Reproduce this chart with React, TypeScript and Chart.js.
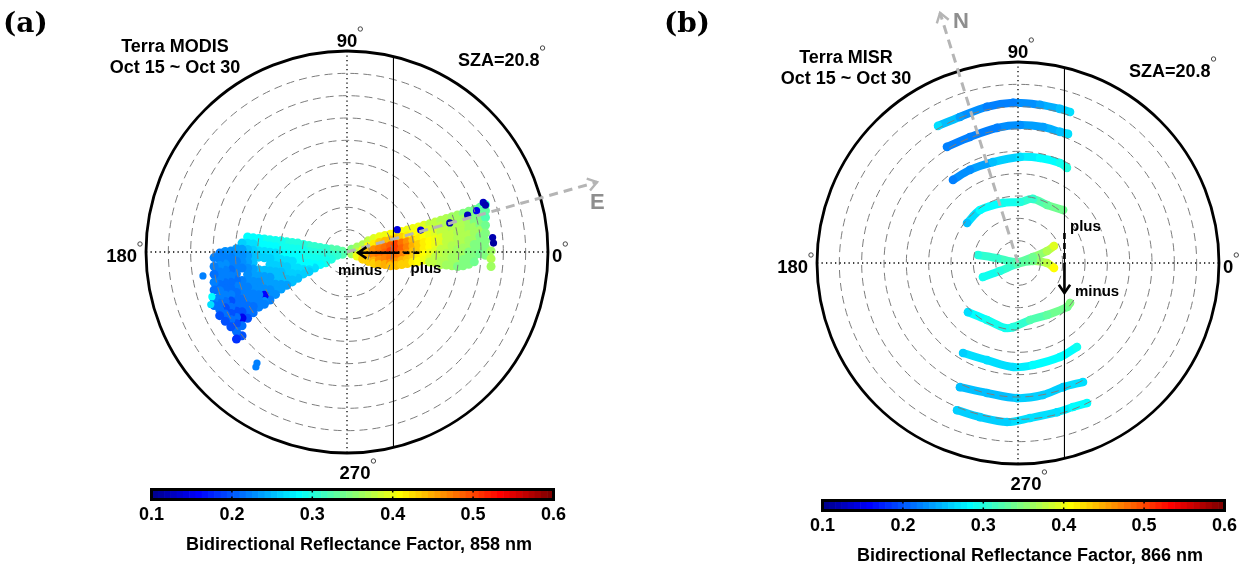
import React, { useEffect, useRef } from "react";
import { Chart, registerables } from "chart.js";

Chart.register(...registerables);

// ---------------- shared polar-axis values ----------------
const ringZeniths = [10, 20, 30, 40, 50, 60, 70, 80];
const outerZenith = 90;
const solarZenith = 20.8;
const azimuthLabels = ["0", "90", "180", "270"];
const colorbarTicks = [0.1, 0.2, 0.3, 0.4, 0.5, 0.6];
const brfMin = 0.1;
const brfMax = 0.6;
const jetLevels = 64;

// plus / minus principal-plane arrow extents (view zenith, deg)
const pmMinusEnd = 5;
const pmPlusEnd = 32.5;
const pmVerticalHalf = 13.4;

// compass arrows (x, y in view-zenith degrees)
const eastTip = [112, 31.3];
const northTip = [-34.9, 112];

const modisTitle = ["Terra MODIS", "Oct 15 ~ Oct 30"];
const misrTitle = ["Terra MISR", "Oct 15 ~ Oct 30"];
const szaText = "SZA=20.8";
const modisBarLabel = "Bidirectional Reflectance Factor, 858 nm";
const misrBarLabel = "Bidirectional Reflectance Factor, 866 nm";

// ---------------- MODIS (panel a) ----------------
// backscatter side (negative x): column x, then y and BRF of each sample
const modisWestX = [-2, -4.5, -7, -9.5, -12, -14.5, -17, -19.5, -22, -24.5, -27, -29.5, -32, -34.5, -37, -39.5, -42, -44.5, -47, -49.5, -52, -54.5, -57, -59.5];
const modisWestY = [
  [0.3, -1.0],
  [1.0, -1.5],
  [1.3, -1.2, -3.2],
  [1.6, -0.9, -3.4, -4.8],
  [2.0, -0.6, -3.2, -5.6],
  [2.5, -0.2, -2.9, -5.6, -7.2],
  [2.9, 0.2, -2.5, -5.2, -7.9, -8.8],
  [3.4, 0.6, -2.2, -5.0, -7.8, -9.8],
  [4.0, 1.2, -1.6, -4.4, -7.2, -10.0, -11.8],
  [4.3, 1.5, -1.3, -4.1, -6.9, -9.7, -12.5, -13.4],
  [4.6, 1.8, -1.0, -3.8, -6.6, -9.4, -12.2, -14.9],
  [5.0, 2.2, -0.6, -3.4, -6.2, -9.0, -11.8, -14.6, -16.6],
  [5.2, 2.4, -0.4, -3.2, -6.0, -8.8, -11.6, -14.4, -17.2, -19.0],
  [5.5, 2.7, -0.1, -2.9, -5.7, -8.5, -11.3, -14.1, -16.9, -19.7, -21.5],
  [5.8, 3.0, 0.2, -2.6, -8.2, -11.0, -13.8, -16.6, -19.4, -22.2, -23.4],
  [6.1, 3.3, 0.5, -2.3, -7.9, -10.7, -13.5, -16.3, -19.1, -21.9, -24.7],
  [6.4, 3.6, 0.8, -2.0, -4.8, -7.6, -10.4, -13.2, -16.0, -18.8, -21.6, -24.4, -27.2],
  [6.7, 3.9, 1.1, -1.7, -4.5, -7.3, -10.1, -12.9, -15.7, -18.5, -21.3, -24.1, -26.9, -29.7],
  [4.0, 1.2, -1.6, -4.4, -7.2, -12.8, -15.6, -18.4, -21.2, -24.0, -26.8, -29.6, -33.0, -37.5],
  [1.5, -1.3, -4.1, -6.9, -9.7, -12.5, -15.3, -18.1, -20.9, -23.7, -26.5, -29.3, -32.1, -35.5, -39.0],
  [0.5, -2.3, -5.1, -7.9, -10.7, -13.5, -16.3, -19.1, -21.9, -24.7, -27.5, -30.3, -33.5],
  [0.2, -2.6, -5.4, -8.2, -11.0, -13.8, -16.6, -19.4, -22.2, -25.0, -27.8, -31.0],
  [-0.5, -3.3, -6.1, -8.9, -11.7, -14.5, -17.3, -20.1, -22.9, -25.7, -28.5],
  [-2.5, -6.5, -10.0, -13.5, -17.0, -21.0, -24.0],
];
const modisWestBRF = [
  [0.33, 0.32],
  [0.32, 0.31],
  [0.32, 0.31, 0.3],
  [0.31, 0.3, 0.29, 0.29],
  [0.31, 0.3, 0.29, 0.28],
  [0.31, 0.3, 0.29, 0.28, 0.27],
  [0.31, 0.3, 0.29, 0.28, 0.27, 0.26],
  [0.3, 0.29, 0.29, 0.28, 0.27, 0.26],
  [0.3, 0.29, 0.28, 0.28, 0.27, 0.26, 0.25],
  [0.3, 0.29, 0.28, 0.27, 0.27, 0.26, 0.25, 0.25],
  [0.3, 0.29, 0.28, 0.27, 0.26, 0.26, 0.25, 0.24],
  [0.29, 0.29, 0.28, 0.27, 0.26, 0.25, 0.25, 0.24, 0.24],
  [0.29, 0.28, 0.27, 0.27, 0.26, 0.25, 0.25, 0.24, 0.24, 0.23],
  [0.29, 0.28, 0.27, 0.26, 0.26, 0.25, 0.24, 0.24, 0.23, 0.23, 0.22],
  [0.29, 0.28, 0.27, 0.26, 0.25, 0.24, 0.24, 0.23, 0.16, 0.23, 0.22],
  [0.28, 0.28, 0.27, 0.26, 0.25, 0.24, 0.23, 0.23, 0.22, 0.22, 0.22],
  [0.28, 0.27, 0.26, 0.25, 0.25, 0.24, 0.24, 0.23, 0.23, 0.22, 0.22, 0.21, 0.21],
  [0.28, 0.27, 0.25, 0.24, 0.24, 0.23, 0.23, 0.23, 0.22, 0.22, 0.22, 0.21, 0.21, 0.2],
  [0.26, 0.24, 0.23, 0.23, 0.22, 0.22, 0.22, 0.22, 0.21, 0.21, 0.2, 0.15, 0.21, 0.2],
  [0.24, 0.23, 0.22, 0.22, 0.22, 0.21, 0.22, 0.21, 0.21, 0.21, 0.2, 0.21, 0.2, 0.21, 0.18],
  [0.23, 0.22, 0.22, 0.21, 0.22, 0.21, 0.21, 0.22, 0.2, 0.21, 0.2, 0.21, 0.2],
  [0.23, 0.22, 0.23, 0.22, 0.22, 0.21, 0.21, 0.22, 0.21, 0.2, 0.21, 0.2],
  [0.22, 0.22, 0.23, 0.22, 0.22, 0.21, 0.22, 0.22, 0.21, 0.21, 0.2],
  [0.22, 0.22, 0.21, 0.22, 0.21, 0.22, 0.21],
];

// forward-scatter side (positive x)
const modisEastX = [2, 4.5, 7, 9.5, 12, 14.5, 17, 19.5, 22, 24.5, 27, 29.5, 32, 34.5, 37, 39.5, 42, 44.5, 47, 49.5, 52, 54.5, 57, 59.5, 62, 64.5];
const modisEastY = [
  [1.2, -0.8],
  [2.2, 0, -1.8],
  [3.2, 0.8, -1.6, -3.2],
  [5, 2.5, 0, -2.5, -4.2],
  [6, 3.5, 1, -1.5, -4, -5.2],
  [6.8, 4.2, 1.6, -1, -3.6, -5.6],
  [7.4, 4.8, 2.2, -0.4, -3, -5.6],
  [8, 5.4, 2.8, 0.2, -2.4, -5, -6.2],
  [8.6, 6, 3.4, 0.8, -1.8, -4.4, -6],
  [9.2, 6.6, 4, 1.4, -1.2, -3.8, -5.6],
  [9.8, 7.2, 4.6, 2, -0.6, -3.2, -5.2],
  [10.5, 7.9, 5.3, 2.7, 0.1, -2.5, -4.6],
  [11.2, 8.6, 6, 3.4, 0.8, -1.8, -4.2],
  [12, 9.4, 6.8, 4.2, 1.6, -1, -3.6],
  [12.6, 10, 7.4, 4.8, 2.2, -0.4, -3, -4.5],
  [13.4, 10.8, 8.2, 5.6, 3, 0.4, -2.2, -4.8],
  [14.2, 11.6, 9, 6.4, 3.8, 1.2, -1.4, -4, -5.6],
  [15, 12.4, 9.8, 7.2, 4.6, 2, -0.6, -3.2, -5.8],
  [15.8, 13.2, 10.6, 8, 5.4, 2.8, 0.2, -2.4, -5, -6.2],
  [16.6, 14, 11.4, 8.8, 6.2, 3.6, 1, -1.6, -4.2, -6.5],
  [17.4, 14.8, 12.2, 9.6, 7, 4.4, 1.8, -0.8, -3.4, -6.2],
  [18.2, 15.6, 13, 10.4, 7.8, 5.2, 2.6, 0, -2.6, -5.5],
  [19, 16.4, 13.8, 11.2, 8.6, 6, 3.4, 0.8, -1.8, -4.4],
  [20, 17.4, 14.8, 12.2, 9.6, 7, 4.4, 1.8, -0.8],
  [21.2, 18.5, 15.5, 12, 8.5, 5, 2, -1.5],
  [0.5, -3, -6.5],
];
const modisEastBRF = [
  [0.35, 0.36],
  [0.36, 0.38, 0.4],
  [0.37, 0.4, 0.42, 0.43],
  [0.38, 0.41, 0.44, 0.45, 0.43],
  [0.39, 0.42, 0.46, 0.47, 0.45, 0.43],
  [0.4, 0.43, 0.47, 0.48, 0.46, 0.44],
  [0.4, 0.44, 0.48, 0.49, 0.47, 0.45],
  [0.41, 0.44, 0.49, 0.5, 0.48, 0.46, 0.44],
  [0.41, 0.44, 0.5, 0.5, 0.48, 0.46, 0.44],
  [0.41, 0.43, 0.48, 0.49, 0.47, 0.45, 0.43],
  [0.4, 0.42, 0.46, 0.47, 0.46, 0.44, 0.43],
  [0.4, 0.41, 0.44, 0.45, 0.44, 0.43, 0.42],
  [0.4, 0.41, 0.42, 0.43, 0.43, 0.42, 0.41],
  [0.39, 0.4, 0.41, 0.42, 0.42, 0.41, 0.4],
  [0.38, 0.39, 0.4, 0.41, 0.41, 0.4, 0.39, 0.38],
  [0.38, 0.38, 0.39, 0.4, 0.4, 0.39, 0.38, 0.38],
  [0.37, 0.38, 0.38, 0.39, 0.39, 0.38, 0.38, 0.37, 0.37],
  [0.37, 0.37, 0.38, 0.38, 0.38, 0.38, 0.37, 0.37, 0.36],
  [0.36, 0.37, 0.37, 0.38, 0.38, 0.37, 0.37, 0.36, 0.36, 0.36],
  [0.36, 0.36, 0.37, 0.37, 0.37, 0.37, 0.36, 0.36, 0.36, 0.35],
  [0.35, 0.36, 0.37, 0.37, 0.37, 0.37, 0.36, 0.36, 0.35, 0.35],
  [0.35, 0.35, 0.36, 0.36, 0.37, 0.36, 0.36, 0.35, 0.35, 0.35],
  [0.34, 0.35, 0.35, 0.36, 0.36, 0.36, 0.35, 0.35, 0.35, 0.34],
  [0.33, 0.34, 0.35, 0.35, 0.36, 0.35, 0.35, 0.35, 0.34],
  [0.31, 0.33, 0.32, 0.34, 0.35, 0.35, 0.35, 0.35],
  [0.36, 0.37, 0.36],
];

// isolated and dark samples
const modisSpeckX = [61, 62, 65.2, 65.6, 54, 46, 22.5, 33, 58, -64.5, -60.5, -61, -40.3, -40.8];
const modisSpeckY = [22.2, 21, 6.5, 4, 16.5, 13, 10, 9.8, 18.5, -10.7, -20, -23.5, -49.7, -51.5];
const modisSpeckBRF = [0.13, 0.12, 0.12, 0.11, 0.13, 0.12, 0.14, 0.14, 0.15, 0.22, 0.28, 0.27, 0.22, 0.22];

// ---------------- MISR (panel b): one along-track arc per camera ----------------
const misrArcX = [
  [-35.8, -26.0, -13.9, -2.2, 9.9, 18.8, 23.3],
  [-31.8, -21.5, -9.4, 0.9, 11.2, 18.8, 22.4],
  [-29.1, -21.5, -11.2, 0.9, 9.9, 18.8, 21.9],
  [-22.8, -17.0, -6.7, 0.9, 6.7, 13.0, 20.2],
  [-17.9, -9.4, -0.4, 6.7, 13.0, 16.1],
  [-15.7, -8.1, -0.4, 6.7, 13.0, 16.1],
  [-22.4, -13.9, -5.8, -2.2, 5.4, 13.0, 22.0, 23.3],
  [-24.6, -13.9, -2.2, 6.7, 18.8, 26.4],
  [-26.0, -13.9, -0.4, 11.2, 20.2, 29.1],
  [-27.3, -17.0, -4.9, 5.4, 17.5, 24.6, 30.9],
];
const misrArcY = [
  [61.4, 65.4, 69.9, 71.7, 70.8, 69.0, 67.6],
  [52.0, 56.4, 60.5, 61.8, 60.9, 58.7, 57.8],
  [37.2, 41.7, 45.2, 47.5, 47.0, 44.8, 42.6],
  [17.9, 23.7, 26.9, 27.3, 28.7, 26.0, 23.7],
  [3.6, 2.2, 0.4, 2.7, 5.4, 7.6],
  [-6.3, -3.6, -0.4, 0.9, 0.0, -2.2],
  [-22.0, -25.5, -29.1, -28.7, -25.5, -23.3, -19.7, -17.9],
  [-40.3, -43.5, -46.6, -45.7, -42.1, -37.6],
  [-55.6, -58.2, -60.5, -59.1, -55.6, -53.3],
  [-65.9, -69.0, -71.2, -69.4, -66.8, -64.5, -62.7],
];
const misrArcBRF = [
  [0.27, 0.24, 0.22, 0.22, 0.24, 0.25, 0.27],
  [0.22, 0.22, 0.22, 0.23, 0.24, 0.25, 0.27],
  [0.22, 0.23, 0.25, 0.27, 0.28, 0.29, 0.3],
  [0.25, 0.28, 0.29, 0.3, 0.31, 0.33, 0.34],
  [0.3, 0.31, 0.32, 0.34, 0.37, 0.39],
  [0.29, 0.3, 0.32, 0.34, 0.38, 0.41],
  [0.27, 0.29, 0.29, 0.3, 0.32, 0.33, 0.34, 0.35],
  [0.26, 0.27, 0.27, 0.28, 0.28, 0.29],
  [0.25, 0.25, 0.26, 0.26, 0.26, 0.27],
  [0.26, 0.26, 0.26, 0.27, 0.27, 0.28, 0.28],
];

// ---------------- helpers ----------------
const FONT = '"Liberation Sans", Arial, Helvetica, sans-serif';

function jetRGB(i: number): number[] {
  const u = (i + 1) / jetLevels;
  const f = (c: number) => Math.round(255 * Math.max(0, Math.min(1, 1.5 - Math.abs(4 * u - c))));
  return [f(3), f(2), f(1)];
}
function jetColor(v: number): string {
  const t = (v - brfMin) / (brfMax - brfMin);
  const i = Math.max(0, Math.min(jetLevels - 1, Math.floor(t * jetLevels)));
  const [r, g, b] = jetRGB(i);
  return `rgb(${r},${g},${b})`;
}

function columnsToPoints(xs: number[], ys: number[][], vs: number[][]) {
  const pts: { x: number; y: number }[] = [];
  const cols: string[] = [];
  xs.forEach((x, i) => {
    ys[i].forEach((y, j) => {
      pts.push({ x, y });
      const row = vs[i];
      cols.push(jetColor(row[Math.min(j, row.length - 1)]));
    });
  });
  return { pts, cols };
}

function chevron(ctx: CanvasRenderingContext2D, x: number, y: number, ang: number, len: number, spread: number) {
  ctx.beginPath();
  ctx.moveTo(x - len * Math.cos(ang - spread), y - len * Math.sin(ang - spread));
  ctx.lineTo(x, y);
  ctx.lineTo(x - len * Math.cos(ang + spread), y - len * Math.sin(ang + spread));
  ctx.stroke();
}

function degreeText(ctx: CanvasRenderingContext2D, text: string, x: number, y: number, align: CanvasTextAlign) {
  ctx.textAlign = align;
  ctx.fillText(text, x, y);
  const w = ctx.measureText(text).width;
  const right = align === "left" ? x + w : align === "right" ? x : x + w / 2;
  ctx.save();
  ctx.beginPath();
  ctx.lineWidth = 0.9;
  ctx.strokeStyle = "#333";
  ctx.arc(right + 3, y - 18, 2.2, 0, Math.PI * 2);
  ctx.stroke();
  ctx.restore();
}

type PanelSpec = {
  tag: string;
  tagX: number;
  title: string[];
  barLabel: string;
  pm: "h" | "v";
  compassTip: number[];
  compassLetter: string;
  letterDx: number;
  letterDy: number;
};

function drawPanel(chart: any, spec: PanelSpec) {
  const ctx: CanvasRenderingContext2D = chart.ctx;
  const xs = chart.scales.x;
  const ys = chart.scales.y;
  const px = (v: number) => xs.getPixelForValue(v);
  const py = (v: number) => ys.getPixelForValue(v);
  const cx = px(0);
  const cy = py(0);
  const rpx = (z: number) => px(z) - cx;
  const R = rpx(outerZenith);
  ctx.save();

  // dashed zenith rings
  ctx.strokeStyle = "#7d7d7d";
  ctx.lineWidth = 1;
  ctx.setLineDash([8, 5]);
  for (const z of ringZeniths) {
    ctx.beginPath();
    ctx.arc(cx, cy, rpx(z), 0, Math.PI * 2);
    ctx.stroke();
  }
  // dotted azimuth axes
  ctx.strokeStyle = "#000";
  ctx.lineWidth = 1.3;
  ctx.setLineDash([1.3, 3.2]);
  ctx.beginPath();
  ctx.moveTo(cx - R, cy);
  ctx.lineTo(cx + R, cy);
  ctx.moveTo(cx, cy - R);
  ctx.lineTo(cx, cy + R);
  ctx.stroke();
  // solar zenith line
  ctx.setLineDash([]);
  ctx.lineWidth = 1.1;
  const sx = px(solarZenith);
  const h = Math.sqrt(R * R - (sx - cx) * (sx - cx));
  ctx.beginPath();
  ctx.moveTo(sx, cy - h);
  ctx.lineTo(sx, cy + h);
  ctx.stroke();
  // outer circle
  ctx.lineWidth = 2.8;
  ctx.beginPath();
  ctx.arc(cx, cy, R, 0, Math.PI * 2);
  ctx.stroke();

  // compass arrow
  const tx = px(spec.compassTip[0]);
  const ty = py(spec.compassTip[1]);
  ctx.strokeStyle = "#b5b5b5";
  ctx.lineWidth = 3;
  ctx.setLineDash([9, 6]);
  ctx.beginPath();
  ctx.moveTo(cx, cy);
  ctx.lineTo(tx, ty);
  ctx.stroke();
  ctx.setLineDash([]);
  ctx.lineWidth = 2.4;
  chevron(ctx, tx, ty, Math.atan2(ty - cy, tx - cx), 11, 0.6);
  ctx.fillStyle = "#8e8e8e";
  ctx.font = `bold 22px ${FONT}`;
  ctx.textAlign = "left";
  ctx.fillText(spec.compassLetter, cx + spec.letterDx, cy + spec.letterDy);

  // plus / minus arrow
  ctx.strokeStyle = "#000";
  ctx.fillStyle = "#000";
  ctx.lineWidth = 2.6;
  ctx.font = `bold 15px ${FONT}`;
  if (spec.pm === "h") {
    const ay = cy + 0.7;
    ctx.setLineDash([6, 4]);
    ctx.beginPath();
    ctx.moveTo(sx, ay);
    ctx.lineTo(px(pmPlusEnd), ay);
    ctx.stroke();
    ctx.setLineDash([]);
    ctx.beginPath();
    ctx.moveTo(sx, ay);
    ctx.lineTo(px(pmMinusEnd), ay);
    ctx.stroke();
    chevron(ctx, px(pmMinusEnd), ay, Math.PI, 10, 0.6);
    ctx.textAlign = "center";
    ctx.fillText("minus", cx + 13, cy + 23);
    ctx.fillText("plus", cx + 79, cy + 21);
  } else {
    ctx.setLineDash([6, 4]);
    ctx.beginPath();
    ctx.moveTo(sx, py(pmVerticalHalf));
    ctx.lineTo(sx, cy);
    ctx.stroke();
    ctx.setLineDash([]);
    ctx.beginPath();
    ctx.moveTo(sx, cy);
    ctx.lineTo(sx, py(-pmVerticalHalf));
    ctx.stroke();
    chevron(ctx, sx, py(-pmVerticalHalf), Math.PI / 2, 10, 0.6);
    ctx.textAlign = "left";
    ctx.fillText("plus", cx + 52, cy - 32);
    ctx.fillText("minus", cx + 57, cy + 33);
  }

  // azimuth labels
  ctx.fillStyle = "#000";
  ctx.font = `bold 18.5px ${FONT}`;
  degreeText(ctx, azimuthLabels[0], cx + R + 4, cy + 10, "left");
  degreeText(ctx, azimuthLabels[1], cx, cy - R - 4, "center");
  degreeText(ctx, azimuthLabels[2], cx - R - 9, cy + 10, "right");
  degreeText(ctx, azimuthLabels[3], cx + 8, cy + R + 26, "center");

  // titles
  ctx.font = `bold 18px ${FONT}`;
  ctx.textAlign = "center";
  ctx.fillText(spec.title[0], cx - 172, cy - 200);
  ctx.fillText(spec.title[1], cx - 172, cy - 179);
  degreeText(ctx, szaText, cx + 111, cy - 186, "left");

  // panel tag
  ctx.font = `bold 28px "DejaVu Serif", serif`;
  ctx.textAlign = "left";
  ctx.fillText(spec.tag, spec.tagX, 32);

  // colorbar
  const x0 = cx - 195.5;
  const x1 = cx + 206.5;
  const y0 = cy + 237.5;
  const y1 = cy + 247.5;
  const cw = (x1 - x0) / jetLevels;
  for (let i = 0; i < jetLevels; i++) {
    const [r, g, b] = jetRGB(i);
    ctx.fillStyle = `rgb(${r},${g},${b})`;
    ctx.fillRect(x0 + i * cw, y0, cw + 0.6, y1 - y0);
  }
  ctx.strokeStyle = "#000";
  ctx.lineWidth = 3;
  ctx.strokeRect(x0, y0, x1 - x0, y1 - y0);
  ctx.fillStyle = "#000";
  ctx.font = `bold 18px ${FONT}`;
  ctx.textAlign = "center";
  ctx.lineWidth = 1.5;
  for (const v of colorbarTicks) {
    const x = x0 + ((v - brfMin) / (brfMax - brfMin)) * (x1 - x0);
    ctx.beginPath();
    ctx.moveTo(x, y0);
    ctx.lineTo(x, y0 + 3);
    ctx.moveTo(x, y1);
    ctx.lineTo(x, y1 - 3);
    ctx.stroke();
    ctx.fillText(v.toFixed(1), x, cy + 268);
  }
  ctx.fillText(spec.barLabel, cx + 12, cy + 298);
  ctx.restore();
}

function baseOptions(padding: any) {
  return {
    responsive: false,
    animation: false as const,
    events: [],
    layout: { padding },
    scales: {
      x: { type: "linear" as const, min: -outerZenith, max: outerZenith, display: false },
      y: { type: "linear" as const, min: -outerZenith, max: outerZenith, display: false },
    },
    plugins: { legend: { display: false }, tooltip: { enabled: false } },
  };
}

function modisConfig(): any {
  const west = columnsToPoints(modisWestX, modisWestY, modisWestBRF);
  const east = columnsToPoints(modisEastX, modisEastY, modisEastBRF);
  const speckPts = modisSpeckX.map((x, i) => ({ x, y: modisSpeckY[i] }));
  const speckCols = modisSpeckBRF.map(jetColor);
  const ds = (pts: any[], cols: string[], r: number) => ({
    data: pts,
    pointRadius: r,
    pointBorderWidth: 0,
    pointBackgroundColor: cols,
    pointBorderColor: cols,
  });
  const spec: PanelSpec = {
    tag: "(a)", tagX: 3, title: modisTitle, barLabel: modisBarLabel, pm: "h",
    compassTip: eastTip, compassLetter: "E", letterDx: 243, letterDy: -43,
  };
  return {
    type: "scatter",
    data: { datasets: [ds(speckPts, speckCols, 3.6), ds(east.pts, east.cols, 4.5), ds(west.pts, west.cols, 4.5)] },
    options: baseOptions({ left: 146, right: 75, top: 51, bottom: 115 }),
    plugins: [{ id: "panelA", afterDatasetsDraw: (c: any) => drawPanel(c, spec) }],
  };
}

function misrConfig(): any {
  const datasets = misrArcX.map((xs, k) => {
    const vals = misrArcBRF[k];
    const cols = vals.map(jetColor);
    return {
      data: xs.map((x, j) => ({ x, y: misrArcY[k][j] })),
      showLine: true,
      tension: 0.35,
      borderWidth: 8,
      borderCapStyle: "round",
      borderJoinStyle: "round",
      borderColor: cols[0],
      segment: { borderColor: (c: any) => jetColor((vals[c.p0DataIndex] + vals[c.p1DataIndex]) / 2) },
      pointRadius: 4.3,
      pointBorderWidth: 0,
      pointBackgroundColor: cols,
      pointBorderColor: cols,
      fill: false,
    };
  });
  const spec: PanelSpec = {
    tag: "(b)", tagX: 41, title: misrTitle, barLabel: misrBarLabel, pm: "v",
    compassTip: northTip, compassLetter: "N", letterDx: -65, letterDy: -235,
  };
  return {
    type: "scatter",
    data: { datasets },
    options: baseOptions({ left: 194, right: 27, top: 62, bottom: 104 }),
    plugins: [{ id: "panelB", afterDatasetsDraw: (c: any) => drawPanel(c, spec) }],
  };
}

export default function App() {
  const refA = useRef<HTMLCanvasElement>(null);
  const refB = useRef<HTMLCanvasElement>(null);
  useEffect(() => {
    const a = new Chart(refA.current as HTMLCanvasElement, modisConfig());
    const b = new Chart(refB.current as HTMLCanvasElement, misrConfig());
    return () => {
      a.destroy();
      b.destroy();
    };
  }, []);
  const cs: React.CSSProperties = { position: "absolute", top: 0, width: 623, height: 568 };
  return (
    <div style={{ position: "absolute", left: 0, top: 0, width: 1246, height: 568, background: "#fff" }}>
      <canvas ref={refA} width={623} height={568} style={{ ...cs, left: 0 }} />
      <canvas ref={refB} width={623} height={568} style={{ ...cs, left: 623 }} />
    </div>
  );
}
